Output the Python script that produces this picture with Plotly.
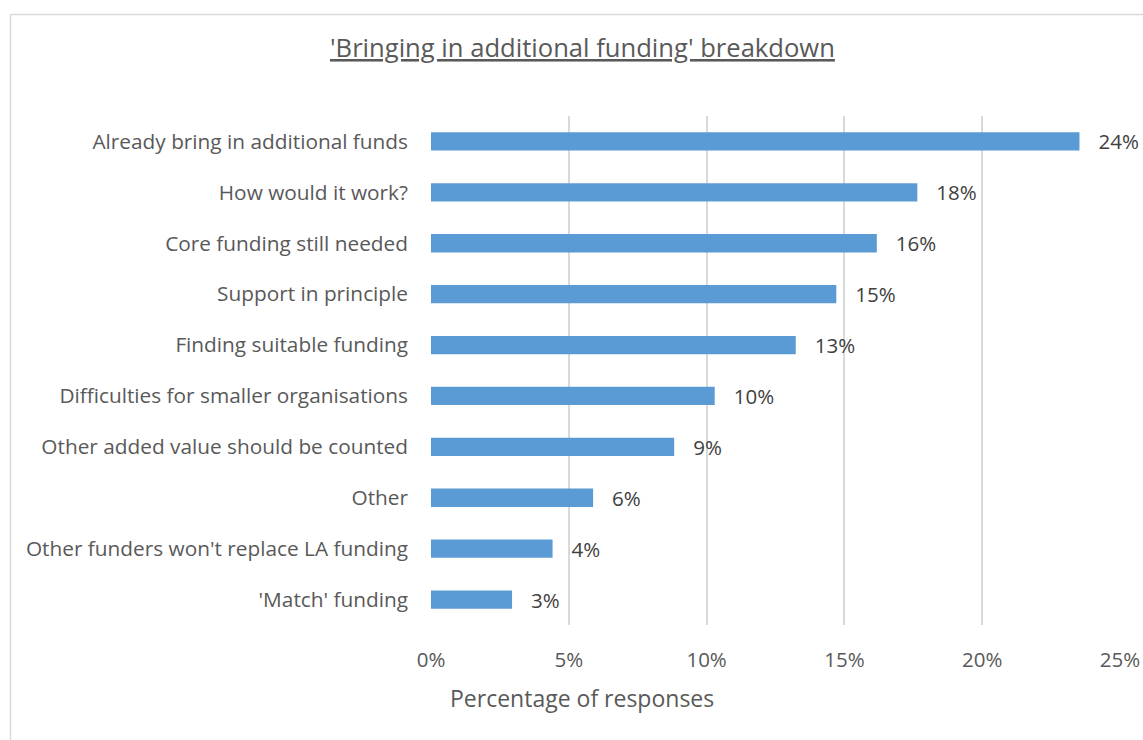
import plotly.graph_objects as go

# Survey breakdown: share of responses per theme (68 responses in total)
categories = [
    "Already bring in additional funds",
    "How would it work?",
    "Core funding still needed",
    "Support in principle",
    "Finding suitable funding",
    "Difficulties for smaller organisations",
    "Other added value should be counted",
    "Other",
    "Other funders won't replace LA funding",
    "'Match' funding",
]
counts = [16, 12, 11, 10, 9, 7, 6, 4, 3, 2]
total_responses = 68
shares = [c / total_responses for c in counts]

tick_values = [0, 0.05, 0.10, 0.15, 0.20, 0.25]
tick_labels = ["0%", "5%", "10%", "15%", "20%", "25%"]

FONT = "Open Sans, Calibri, sans-serif"
TEXT = "#595959"

fig = go.Figure(
    go.Bar(
        x=shares,
        y=categories,
        orientation="h",
        marker=dict(color="#5b9bd5", line=dict(width=0)),
        texttemplate="   %{x:.0%}",
        textposition="outside",
        textfont=dict(family=FONT, size=20.5, color="#404040"),
        constraintext="none",
        cliponaxis=False,
        hoverinfo="skip",
    )
)

fig.update_layout(
    width=1143,
    height=740,
    margin=dict(l=431, r=23, t=116, b=115, autoexpand=False),
    paper_bgcolor="white",
    plot_bgcolor="white",
    showlegend=False,
    bargap=0.64,
    font=dict(family=FONT, color=TEXT),
    xaxis=dict(
        range=[0, 0.25],
        tickvals=tick_values,
        ticktext=tick_labels,
        showgrid=True,
        gridcolor="#d9d9d9",
        gridwidth=1.5,
        zeroline=False,
        showline=False,
        ticks="",
        automargin=False,
        ticklabelstandoff=20,
        tickfont=dict(family=FONT, size=20.5, color=TEXT),
    ),
    yaxis=dict(
        autorange="reversed",
        showgrid=False,
        zeroline=False,
        showline=False,
        ticks="",
        automargin=False,
        ticklabelstandoff=22,
        tickfont=dict(family=FONT, size=20.8, color=TEXT),
    ),
    annotations=[
        dict(
            text="<u>'Bringing in additional funding' breakdown</u>",
            xref="paper", yref="paper",
            x=(582 - 431) / 689, y=(625 - 47) / 509,
            xanchor="center", yanchor="middle",
            showarrow=False,
            font=dict(family=FONT, size=25.6, color=TEXT),
        ),
        dict(
            text="Percentage of responses",
            xref="paper", yref="paper",
            x=(582 - 431) / 689, y=(625 - 698) / 509,
            xanchor="center", yanchor="middle",
            showarrow=False,
            font=dict(family=FONT, size=23, color=TEXT),
        ),
    ],
    shapes=[
        dict(
            type="rect",
            xref="paper", yref="paper",
            x0=(10.5 - 431) / 689, x1=1.2,
            y0=-0.5, y1=(625 - 14.5) / 509,
            line=dict(color="#d9d9d9", width=1.5),
            fillcolor="rgba(0,0,0,0)",
            layer="below",
        )
    ],
)

fig.write_html("out.html")
